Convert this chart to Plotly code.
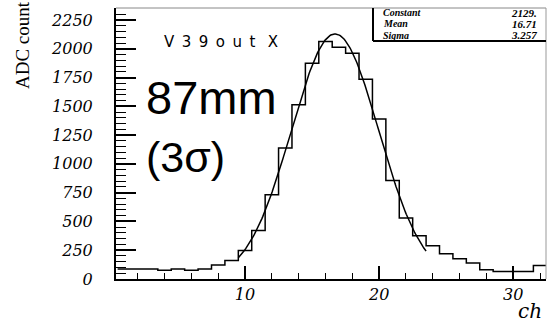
import numpy as np
import plotly.graph_objects as go

# Channel histogram (bins of width 1 centred on integer channels)
channels = list(range(1, 33))
counts = [87, 87, 87, 75, 87, 75, 87, 122, 161, 248, 422, 732, 1137, 1513,
          1875, 2062, 2014, 1962, 1736, 1389, 856, 529, 376, 289, 220, 176,
          139, 81, 66, 66, 66, 118]

# Gaussian fit parameters shown in the stats box
fit_names = ["Constant", "Mean", "Sigma"]
fit_values = [2129.0, 16.71, 3.257]
fit_labels = ["2129.", "16.71", "3.257"]
fit_range = [9.5, 23.5]

x_ticks = [10, 20, 30]
y_ticks = [0, 250, 500, 750, 1000, 1250, 1500, 1750, 2000, 2250]

W, H = 547, 322
L, R, T, B = 116, 546, 8, 279


def px(x):
    return (x - L) / (R - L)


def py(y):
    return (B - y) / (B - T)


# step outline: left edges of each bin plus the final right edge
edges = [c - 0.5 for c in channels] + [channels[-1] + 0.5]
step_y = counts + [counts[-1]]

const, mean, sigma = fit_values
xf = np.linspace(fit_range[0], fit_range[1], 200)
yf = const * np.exp(-0.5 * ((xf - mean) / sigma) ** 2)

fig = go.Figure()
fig.add_trace(go.Scatter(x=edges, y=step_y, mode="lines", line_shape="hv",
                         line=dict(color="black", width=1.5), hoverinfo="skip"))
fig.add_trace(go.Scatter(x=xf, y=yf, mode="lines",
                         line=dict(color="black", width=1.5), hoverinfo="skip"))

tickfont = dict(family="DejaVu Serif", size=16, color="black")

fig.update_layout(
    width=W, height=H,
    margin=dict(l=L, r=W - R, t=T, b=H - B),
    paper_bgcolor="white", plot_bgcolor="white",
    showlegend=False,
    xaxis=dict(range=[0.38, 32.44], tickvals=x_ticks,
               ticktext=[f"<i>{v}</i>" for v in x_ticks], ticks="inside",
               ticklen=13, tickwidth=1.5, tickcolor="black",
               minor=dict(dtick=2, tick0=0, ticks="inside", ticklen=6,
                          tickwidth=1.2, tickcolor="black"),
               showgrid=False, zeroline=False, showline=True,
               linecolor="black", linewidth=2, tickfont=tickfont,
               ticklabelstandoff=0),
    yaxis=dict(range=[0, 2354], tickvals=y_ticks,
               ticktext=[f"<i>{v}</i>" for v in y_ticks], ticks="inside",
               ticklen=20, tickwidth=1.5, tickcolor="black",
               minor=dict(dtick=50, tick0=0, ticks="inside", ticklen=10,
                          tickwidth=1.2, tickcolor="black"),
               showgrid=False, zeroline=False, showline=True,
               linecolor="black", linewidth=2, tickfont=tickfont,
               ticklabelstandoff=18),
)

# frame: thin grey top and right edges
fig.add_shape(type="line", xref="paper", yref="paper", x0=0, x1=1, y0=1, y1=1,
              line=dict(color="#888888", width=1))
fig.add_shape(type="line", xref="paper", yref="paper", x0=1, x1=1, y0=0, y1=1,
              line=dict(color="#999999", width=1))

# stats box
bx0, by1 = px(373), py(41)
fig.add_shape(type="line", xref="paper", yref="paper", x0=bx0, x1=bx0, y0=by1, y1=1,
              line=dict(color="black", width=2))
fig.add_shape(type="line", xref="paper", yref="paper", x0=bx0, x1=1, y0=by1, y1=by1,
              line=dict(color="black", width=2))
for i, (name, val) in enumerate(zip(fit_names, fit_labels)):
    yy = py(13 + 11 * i)
    fig.add_annotation(x=px(381), y=yy, xref="paper", yref="paper", text=name,
                       showarrow=False, xanchor="left", yanchor="middle",
                       font=dict(family="Liberation Serif", size=10, color="black",
                                 style="italic", weight="bold"))
    fig.add_annotation(x=px(539), y=yy, xref="paper", yref="paper", text=val,
                       showarrow=False, xanchor="right", yanchor="middle",
                       font=dict(family="Liberation Serif", size=11, color="black",
                                 style="italic", weight="bold"))

# text labels
sp = "\u2002"
fig.add_annotation(x=px(162), y=py(42), xref="paper", yref="paper",
                   text=sp.join("V39out") + sp + " X", showarrow=False,
                   xanchor="left", yanchor="middle",
                   font=dict(family="DejaVu Sans", size=15, color="black"))
fig.add_annotation(x=px(144), y=py(97), xref="paper", yref="paper",
                   text="87mm", showarrow=False, xanchor="left", yanchor="middle",
                   font=dict(family="Liberation Sans", size=47, color="black"))
fig.add_annotation(x=px(144), y=py(157), xref="paper", yref="paper",
                   text="(3σ)", showarrow=False, xanchor="left", yanchor="middle",
                   font=dict(family="Liberation Sans", size=43, color="black"))

# axis titles
fig.add_annotation(x=px(22), y=py(45), xref="paper", yref="paper",
                   text="ADC count", showarrow=False, textangle=-90,
                   xanchor="center", yanchor="middle",
                   font=dict(family="Liberation Serif", size=19, color="black"))
fig.add_annotation(x=px(544), y=py(311), xref="paper", yref="paper",
                   text="ch", showarrow=False, xanchor="right", yanchor="middle",
                   font=dict(family="DejaVu Serif", size=20, color="black",
                             style="italic"))

fig.write_html("out.html")
